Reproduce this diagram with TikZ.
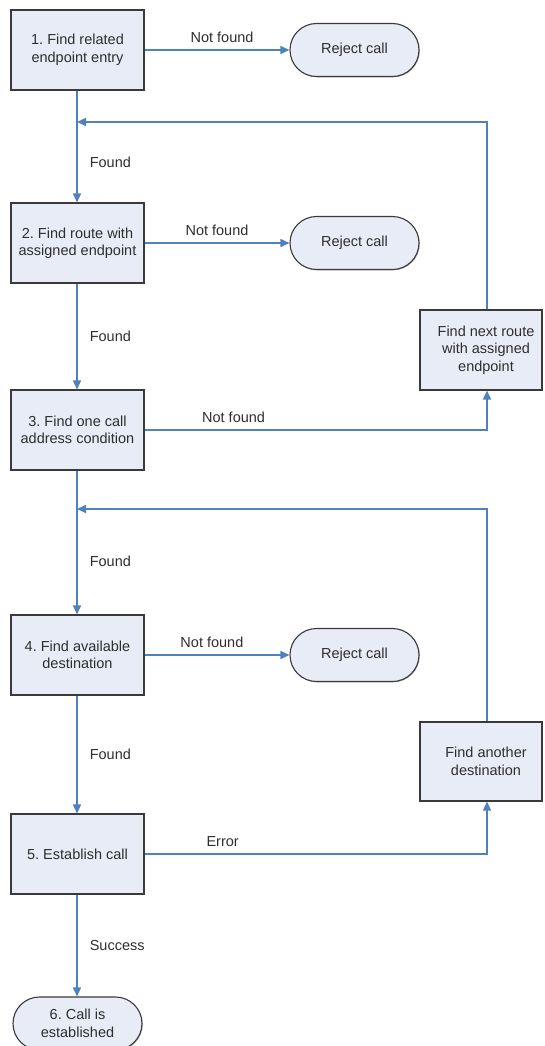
\documentclass[tikz,border=0pt]{standalone}
\usepackage{fontspec}
\setmainfont{Liberation Sans}
\usetikzlibrary{arrows.meta,shapes.misc,shadows}
\definecolor{boxfill}{HTML}{E8ECF6}
\definecolor{flowblue}{HTML}{4F81BD}
\definecolor{txt}{HTML}{2E2E2E}
\definecolor{edgecol}{HTML}{3A3A3A}
\frenchspacing
\begin{document}
\begin{tikzpicture}[x=1pt,y=-1pt,
  font=\fontsize{14.5}{17.5}\selectfont\frenchspacing,
  shadowed/.style={drop shadow={shadow xshift=0.8pt, shadow yshift=-0.8pt, opacity=0.45, fill=black!70}},
  procbox/.style={rectangle, draw=edgecol, line width=1.1pt, fill=boxfill, text=txt,
    align=center, minimum width=133pt, minimum height=80pt, inner sep=2pt, shadowed},
  termbox/.style={rounded rectangle, draw=edgecol, line width=1.1pt, fill=boxfill, text=txt,
    align=center, minimum width=133pt, minimum height=53pt, inner sep=2pt, shadowed},
  flow/.style={draw=flowblue, line width=1.6pt, -{Triangle[length=9pt,width=8pt]}},
  plainline/.style={draw=flowblue, line width=1.6pt},
  lbl/.style={text=txt, inner sep=0pt},
  uplbl/.style={lbl, above=7pt},
  sidelbl/.style={lbl, right=12pt}
]
\clip (0,0) rectangle (544,1046);

% nodes
\node[procbox] (b1) at (77.5,50) {1. Find related\\endpoint entry};
\node[termbox] (r1) at (354.5,50) {Reject call};
\node[procbox] (b2) at (77.5,243) {2. Find route with\\assigned endpoint};
\node[termbox] (r2) at (354.5,243) {Reject call};
\node[procbox] (b3) at (77.5,430) {3. Find one call\\address condition};
\node[procbox, minimum width=122pt] (nr) at (481,350)
  {\hspace*{10pt}Find next route\\\hspace*{10pt}with assigned\\\hspace*{10pt}endpoint};
\node[procbox] (b4) at (77.5,655) {4. Find available\\destination};
\node[termbox] (r3) at (354.5,655) {Reject call};
\node[procbox, minimum width=122pt, minimum height=79pt] (fa) at (481,761.5)
  {\hspace*{10pt}Find another\\\hspace*{10pt}destination};
\node[procbox] (b5) at (77.5,854) {5. Establish call};
\node[termbox] (fin) at (77.5,1023.5) {6. Call is\\established};

\coordinate (j1) at (77,122);
\coordinate (j2) at (77,509);

% connectors
\draw[flow] (b1.east) -- node[uplbl, pos=0.535] {Not found} (r1.west);
\draw[plainline] (b1.south -| j1) -- (j1);
\draw[flow] (j1) -- node[sidelbl] {Found} (b2.north -| j1);
\draw[flow] ([xshift=6pt]nr.north) |- (j1);

\draw[flow] (b2.east) -- node[uplbl] {Not found} (r2.west);
\draw[flow] (b2.south -| j1) -- node[sidelbl] {Found} (b3.north -| j1);
\draw[flow] (b3.east) -| node[uplbl, pos=0.13] {Not found} ([xshift=6pt]nr.south);

\draw[plainline] (b3.south -| j2) -- (j2);
\draw[flow] (j2) -- node[sidelbl] {Found} (b4.north -| j2);
\draw[flow] ([xshift=6pt]fa.north) |- (j2);

\draw[flow] (b4.east) -- node[uplbl, pos=0.465] {Not found} (r3.west);
\draw[flow] (b4.south -| j2) -- node[sidelbl] {Found} (b5.north -| j2);
\draw[flow] (b5.east) -| node[uplbl, pos=0.114] {Error} ([xshift=6pt]fa.south);
\draw[flow] (b5.south -| j2) -- node[sidelbl] {Success} (fin.north -| j2);
\end{tikzpicture}
\end{document}
